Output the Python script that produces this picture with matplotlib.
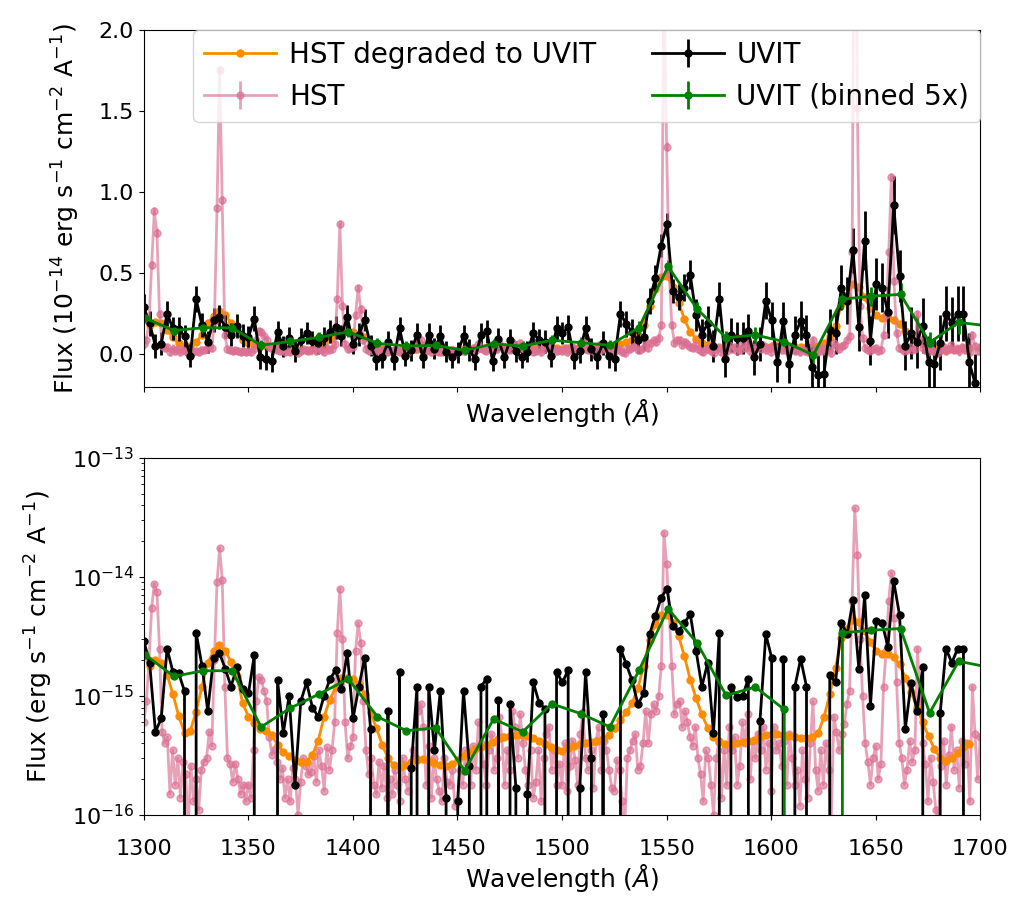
"""Compare HST and UVIT FUV spectra: linear (top) and log (bottom) panels."""
import numpy as np
import matplotlib
matplotlib.use("Agg")
import matplotlib.pyplot as plt

# ---------------------------------------------------------------------------
# data, flux in units of 1e-15 erg s-1 cm-2 A-1
# ---------------------------------------------------------------------------

# HST spectrum, sampled every 1.25 A from 1300 A
hst_start, hst_step = 1300.0, 1.25
hst_flux = [
    0.6, 0.9, 2.0, 5.5, 8.8, 7.5, 2.5, 0.5,            # 1300
    0.4, 0.45, 0.15, 0.35, 0.18, 0.3, 0.14, 0.28,      # 1310
    0.22, 0.08, 0.26, 0.13, 0.2, 0.11, 0.24, 0.28,     # 1320
    0.3, 0.5, 0.38, 2.0, 9.0, 17.5, 9.5, 1.2,          # 1330
    0.3, 0.27, 0.19, 0.27, 0.2, 0.15, 0.18, 0.13,      # 1340
    0.18, 0.14, 0.35, 0.9, 1.45, 1.35, 1.1, 0.9,       # 1350
    0.45, 0.32, 0.36, 0.28, 0.2, 0.25, 0.14, 0.2,      # 1360
    0.13, 0.25, 0.2, 0.1, 0.19, 0.3, 0.26, 0.22,       # 1370
    0.23, 0.31, 0.19, 0.35, 0.26, 0.16, 0.37, 0.24,    # 1380
    0.35, 0.6, 3.4, 8.0, 3.0, 0.6, 0.3, 0.38,          # 1390
    0.45, 2.4, 4.1, 2.8, 0.9, 0.35, 0.22, 0.3,         # 1400
    0.18, 0.15, 0.28, 0.17, 0.26, 0.14, 0.2, 0.15,     # 1410
    0.24, 0.18, 0.13, 0.3, 0.2, 0.16, 0.27, 0.35,      # 1420
    0.3, 0.75, 0.85, 0.55, 0.18, 0.38, 0.14, 0.3,      # 1430
    0.2, 0.16, 0.13, 0.3, 0.19, 0.18, 0.24, 0.12,      # 1440
    0.13, 0.24, 0.18, 0.35, 0.27, 0.18, 0.38, 0.24,    # 1450
    0.6, 0.4, 0.27, 0.18, 0.35, 0.48, 0.24, 0.3,       # 1460
    0.67, 0.45, 0.18, 0.35, 0.24, 0.75, 0.55, 0.3,     # 1470
    0.7, 0.4, 0.24, 0.18, 0.35, 0.14, 0.19, 0.35,      # 1480
    0.13, 0.3, 0.48, 0.55, 0.24, 0.35, 0.18, 0.27,     # 1490
    0.18, 0.4, 0.16, 0.26, 0.42, 0.29, 0.18, 0.48,     # 1500
    0.73, 0.3, 0.24, 0.35, 0.17, 0.42, 0.55, 0.24,     # 1510
    0.42, 0.35, 0.24, 0.17, 0.16, 0.29, 0.24, 0.13,    # 1520
    0.08, 0.3, 0.35, 0.42, 0.48, 0.24, 0.26, 0.4,      # 1530
    0.75, 0.4, 0.7, 0.85, 0.75, 1.0, 1.8, 23.6,        # 1540
    12.8, 5.0, 1.8, 0.7, 0.85, 0.9, 0.55, 0.75,        # 1550
    0.6, 0.45, 0.38, 0.55, 0.3, 0.22, 0.13, 0.35,      # 1560
    0.3, 0.18, 0.1, 0.3, 0.42, 0.14, 0.35, 0.18,       # 1570
    0.55, 0.35, 0.45, 0.18, 0.26, 0.6, 0.4, 0.7,       # 1580
    0.2, 0.42, 0.3, 0.48, 0.35, 0.55, 0.24, 0.4,       # 1590
    0.16, 0.55, 0.35, 0.4, 0.26, 0.42, 0.18, 0.48,     # 1600
    0.3, 0.18, 0.24, 0.12, 0.35, 0.2, 0.14, 0.4,       # 1610
    0.9, 0.24, 0.16, 0.35, 0.18, 0.4, 0.24, 0.09,      # 1620
    0.67, 0.5, 0.35, 0.48, 0.58, 0.85, 1.1, 6.3,       # 1630
    38.0, 15.2, 3.0, 1.0, 0.4, 0.28, 0.18, 0.3,        # 1640
    0.38, 0.2, 0.27, 1.2, 2.4, 6.3, 10.9, 4.5,         # 1650
    1.3, 0.4, 0.3, 0.18, 0.24, 0.42, 0.28, 0.35,       # 1660
    2.5, 0.9, 0.4, 0.27, 0.13, 0.3, 0.19, 0.11,        # 1670
    0.09, 0.26, 0.42, 0.18, 0.32, 0.55, 0.24, 0.35,    # 1680
    0.17, 0.42, 0.27, 0.4, 0.13, 1.2, 0.48, 0.2, 0.45, # 1690
]
hst_err = 0.25

# UVIT spectrum, 2.78 A per point from 1300 A
uvit_start, uvit_step = 1300.0, 2.78
uvit_flux = [
    2.9, 1.9, 0.5, 0.65, 2.5, 1.6, 1.55, 1.1, -0.1, 3.4,
    1.8, 0.75, 2.1, 2.3, 1.7, 1.2, 1.75, 1.15, 1.05, 2.2,
    -0.2, -0.3, -0.4, 1.35, 0.49, 1.0, 0.18, 0.9, 1.3, 0.8,
    0.67, 1.0, 1.38, 1.65, 1.15, 2.3, 0.65, 1.2, 2.1, 0.53,
    -0.3, -0.2, 0.75, -0.3, 1.6, -0.1, 0.25, 1.2, -0.2, 1.2,
    0.35, 1.1, 0.14, -0.2, 0.13, 1.1, 0.26, -0.3, 1.2, 1.4,
    -0.4, 0.93, -0.2, 0.85, 0.17, -0.2, 0.15, 1.3, 0.88, 0.78,
    -0.1, 1.6, 1.3, 1.65, -0.2, 0.17, 1.6, 0.3, -0.2, 0.7,
    -0.1, -0.3, 2.5, 1.85, 1.35, 0.85, 1.05, 3.3, 4.7, 6.7,
    8.0, 3.9, 3.5, 4.1, 4.9, 2.4, 1.2, 1.9, 0.49, 3.4,
    -0.3, 1.2, 0.98, 1.0, 1.4, -0.2, 0.62, 3.3, 2.1, -0.5,
    2.05, -0.6, 1.2, 2.05, 1.2, -0.8, -1.3, -1.2, 1.5, 1.3,
    4.1, 3.3, 6.4, 1.7, 7.0, 0.83, 4.3, 4.1, 2.6, 9.2,
    4.8, 0.53, 1.29, 0.75, 1.75, -0.5, -0.6, 0.72, 2.5, 1.9,
    2.5, 2.5, -0.5, -1.8,
]
uvit_err = [
    0.8, 0.75, 0.75, 0.7, 0.75, 0.7, 0.75, 0.7, 0.7, 0.8,
    0.75, 0.7, 0.75, 0.75, 0.7, 0.7, 0.75, 0.7, 0.7, 0.75,
    0.7, 0.7, 0.7, 0.7, 0.65, 0.7, 0.65, 0.7, 0.7, 0.65,
    0.65, 0.7, 0.7, 0.7, 0.65, 0.75, 0.65, 0.7, 0.7, 0.65,
    0.65, 0.65, 0.7, 0.65, 0.7, 0.65, 0.65, 0.7, 0.65, 0.7,
    0.65, 0.7, 0.65, 0.65, 0.65, 0.7, 0.65, 0.65, 0.7, 0.7,
    0.65, 0.7, 0.65, 0.7, 0.65, 0.65, 0.65, 0.7, 0.7, 0.7,
    0.7, 0.75, 0.7, 0.75, 0.7, 0.7, 0.75, 0.7, 0.7, 0.75,
    0.75, 0.75, 0.8, 0.8, 0.8, 0.75, 0.8, 0.8, 0.8, 0.7,
    0.7, 0.75, 0.8, 0.85, 0.9, 1.0, 1.0, 1.1, 1.0, 1.05,
    1.1, 1.05, 1.0, 1.0, 1.05, 1.1, 1.05, 1.15, 1.1, 1.2,
    1.15, 1.2, 1.15, 1.2, 1.2, 1.25, 1.25, 1.3, 1.3, 1.3,
    1.4, 1.45, 1.4, 1.5, 1.8, 1.5, 1.6, 1.5, 1.6, 1.8,
    1.6, 1.5, 1.6, 1.6, 1.7, 1.6, 1.6, 1.7, 1.7, 1.6,
    1.7, 1.7, 1.8, 1.8,
]

# HST degraded to UVIT resolution, on the UVIT grid from its second point
degraded_flux = [
    1.80, 2.0, 1.90, 1.51, 1.04, 0.68, 0.49, 0.51, 0.74, 1.20,
    1.90, 2.38, 2.67, 2.41, 1.93, 1.48, 0.87, 0.67, 0.59, 0.53,
    0.51, 0.47, 0.39, 0.34, 0.314, 0.29, 0.276, 0.28, 0.32, 0.42,
    0.67, 0.93, 1.18, 1.42, 1.43, 1.39, 1.26, 1.03, 0.72, 0.54,
    0.39, 0.30, 0.264, 0.255, 0.264, 0.28, 0.29, 0.295, 0.285, 0.272,
    0.264, 0.26, 0.269, 0.287, 0.31, 0.335, 0.357, 0.376, 0.391, 0.412,
    0.435, 0.448, 0.46, 0.469, 0.469, 0.46, 0.445, 0.42, 0.396, 0.372,
    0.353, 0.345, 0.365, 0.378, 0.396, 0.404, 0.41, 0.415, 0.435, 0.472,
    0.537, 0.624, 0.728, 0.87, 1.17, 1.80, 2.98, 3.99, 4.75, 4.84,
    4.12, 3.18, 2.16, 1.37, 0.96, 0.70, 0.54, 0.452, 0.407, 0.396,
    0.396, 0.40, 0.407, 0.415, 0.43, 0.452, 0.467, 0.48, 0.48, 0.472,
    0.457, 0.448, 0.44, 0.44, 0.452, 0.49, 0.665, 1.03, 1.72, 3.1,
    3.67, 4.33, 4.17, 3.50, 2.83, 2.39, 2.26, 2.26, 2.13, 1.84,
    1.43, 1.08, 0.80, 0.60, 0.457, 0.36, 0.30, 0.285, 0.30, 0.331,
    0.369, 0.396,
]

# UVIT binned 5x
binned_start, binned_step = 1300.5, 13.9
binned_flux = [
    2.23, 1.46, 1.63, 1.63, 0.55, 0.79, 1.04, 1.39, 0.67, 0.51,
    0.54, 0.236, 0.64, 0.50, 0.86, 0.71, 0.55, 1.64, 5.41, 2.79,
    1.01, 1.19, 0.77, -0.05, 3.40, 3.57, 3.69, 0.72, 1.96, 1.75,
]
binned_err = [
    0.3, 0.3, 0.3, 0.3, 0.3, 0.3, 0.3, 0.3, 0.3, 0.3,
    0.3, 0.3, 0.3, 0.3, 0.3, 0.35, 0.35, 0.4, 0.4, 0.45,
    0.45, 0.5, 0.5, 0.55, 0.6, 0.6, 0.7, 0.65, 0.7, 0.7,
]

# ---------------------------------------------------------------------------
hst_w = hst_start + hst_step * np.arange(len(hst_flux))
uvit_w = uvit_start + uvit_step * np.arange(len(uvit_flux))
deg_w = uvit_w[1:1 + len(degraded_flux)]
bin_w = binned_start + binned_step * np.arange(len(binned_flux))

hst_f = np.array(hst_flux)
uvit_f = np.array(uvit_flux)
uvit_e = np.array(uvit_err)
deg_f = np.array(degraded_flux)
bin_f = np.array(binned_flux)
bin_e = np.array(binned_err)

HST_C = "palevioletred"
DEG_C = "darkorange"
BIN_C = "green"
MS = 5

fig, (ax1, ax2) = plt.subplots(2, 1, figsize=(10.2, 9.01), dpi=100, sharex=True)
fig.subplots_adjust(left=0.141, right=0.961, top=0.967, bottom=0.0955, hspace=0.2)

# top: linear, units of 1e-14
s = 0.1
ax1.plot(deg_w, deg_f * s, "o-", color=DEG_C, ms=MS, lw=2, label="HST degraded to UVIT")
ax1.errorbar(hst_w, hst_f * s, yerr=hst_err * s, fmt="o-", color=HST_C, alpha=0.65,
             ms=MS, lw=2, label="HST")
ax1.errorbar(uvit_w, uvit_f * s, yerr=uvit_e * s, fmt="o-", color="k", ms=MS, lw=2,
             label="UVIT")
ax1.errorbar(bin_w, bin_f * s, yerr=bin_e * s, fmt="o-", color=BIN_C, ms=MS, lw=2,
             label="UVIT (binned 5x)")
ax1.set_ylim(-0.2, 2.0)
ax1.set_ylabel(r"Flux (10$^{-14}$ erg s$^{-1}$ cm$^{-2}$ A$^{-1}$)", fontsize=18,
               labelpad=12)
ax1.set_xlabel(r"Wavelength ($\AA$)", fontsize=18)
ax1.xaxis.set_tick_params(labelbottom=False)
ax1.legend(ncol=2, loc="upper right", borderaxespad=0, fontsize=20,
           handlelength=2.6, handletextpad=0.45, columnspacing=2.0)

# bottom: log, absolute units
u = 1e-15
ax2.plot(hst_w, hst_f * u, "o-", color=HST_C, alpha=0.65, ms=MS, lw=2)
ax2.plot(deg_w, deg_f * u, "o-", color=DEG_C, ms=MS, lw=2)
ax2.plot(uvit_w, uvit_f * u, "o-", color="k", ms=MS, lw=2)
ax2.plot(bin_w, bin_f * u, "o-", color=BIN_C, ms=MS, lw=2)
ax2.set_yscale("log")
ax2.set_ylim(1e-16, 1e-13)
ax2.set_xlim(1300, 1700)
ax2.set_ylabel(r"Flux (erg s$^{-1}$ cm$^{-2}$ A$^{-1}$)", fontsize=18, labelpad=12)
ax2.set_xlabel(r"Wavelength ($\AA$)", fontsize=18, labelpad=2)

for ax in (ax1, ax2):
    ax.tick_params(labelsize=16)
ax2.tick_params(axis="x", pad=14)

fig.savefig("out.png", dpi=100)
